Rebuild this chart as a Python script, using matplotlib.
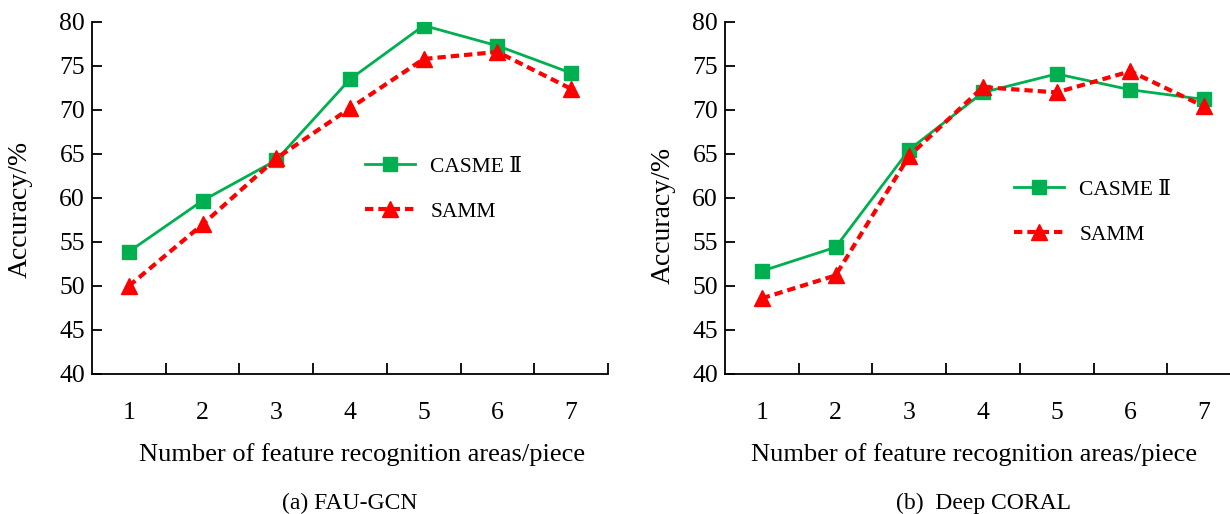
import matplotlib
matplotlib.use("Agg")
import matplotlib.pyplot as plt
from matplotlib.ticker import FixedLocator, NullFormatter, FixedFormatter

plt.rcParams['font.family'] = ['Liberation Serif', 'DejaVu Serif']

areas = [1, 2, 3, 4, 5, 6, 7]
tick_labels = ['1', '2', '3', '4', '5', '6', '7']
yticks = [40, 45, 50, 55, 60, 65, 70, 75, 80]

fau_casme = [53.9, 59.7, 64.3, 73.5, 79.6, 77.3, 74.2]
fau_samm = [50.0, 57.0, 64.5, 70.2, 75.8, 76.6, 72.4]
coral_casme = [51.7, 54.4, 65.5, 72.0, 74.1, 72.3, 71.2]
coral_samm = [48.6, 51.2, 64.8, 72.6, 72.0, 74.4, 70.4]

series_names = ['CASME \u2161', 'SAMM']
captions = ['(a) FAU-GCN', '(b)  Deep CORAL']
xlabel = 'Number of feature recognition areas/piece'
ylabel = 'Accuracy/%'

green = '#00B050'
red = '#FF0000'

W, H = 1230, 514
fig = plt.figure(figsize=(W / 100, H / 100), dpi=100)

# (casme, samm, axis left px, legend anchor px, ylabel right edge px, ylabel center px, xlabel center px)
panels = [
    (fau_casme, fau_samm, 92, (356, 148), 33, 209, 362),
    (coral_casme, coral_samm, 725, (1005, 171), 676, 215, 974),
]
axw = 516
top_px, bot_px = 22, 374

for i, (casme, samm, left_px, leg_px, yl_x, yl_y, xl_x) in enumerate(panels):
    ax = fig.add_axes([left_px / W, 1 - bot_px / H, axw / W, (bot_px - top_px) / H])
    l1, = ax.plot(areas, casme, color=green, lw=2, marker='s', markersize=10.5,
                  label=series_names[0])
    l2, = ax.plot(areas, samm, color=red, lw=3, ls=(0, (2, 1.2)), marker='^',
                  markersize=11.5, label=series_names[1])
    ax.set_xlim(0.5, 7.5)
    ax.set_ylim(40, 80)
    ax.set_yticks(yticks)
    ax.xaxis.set_major_locator(FixedLocator([1.5, 2.5, 3.5, 4.5, 5.5, 6.5, 7.5]))
    ax.xaxis.set_major_formatter(NullFormatter())
    ax.xaxis.set_minor_locator(FixedLocator(areas))
    ax.xaxis.set_minor_formatter(FixedFormatter(tick_labels))
    ax.tick_params(axis='x', which='major', direction='in', length=8, width=1.3)
    ax.tick_params(axis='x', which='minor', length=0, pad=20, labelsize=18.5)
    ax.tick_params(axis='y', direction='in', length=7.5, width=1.3, pad=5, labelsize=18.5)
    for s in ['top', 'right']:
        ax.spines[s].set_visible(False)
    for s in ['left', 'bottom']:
        ax.spines[s].set_linewidth(1.3)
    ax.set_ylabel(ylabel, fontsize=20)
    ax.yaxis.set_label_coords((yl_x - left_px) / axw, (bot_px - yl_y) / (bot_px - top_px))
    ax.set_xlabel(xlabel, fontsize=19, labelpad=14)
    ax.xaxis.label.set_x((xl_x - left_px) / axw)
    ax.legend(handles=[l1, l2], loc='upper left',
              bbox_to_anchor=((leg_px[0] - left_px) / axw, 1 - (leg_px[1] - top_px) / (bot_px - top_px)),
              frameon=False, fontsize=15.5, handlelength=2.35, labelspacing=1.15,
              handletextpad=0.7, borderaxespad=0)
    cx = (left_px + axw / 2) / W
    fig.text(cx, 1 - 503 / H, captions[i], ha='center', va='center', fontsize=17)

fig.savefig('out.png', dpi=100)
